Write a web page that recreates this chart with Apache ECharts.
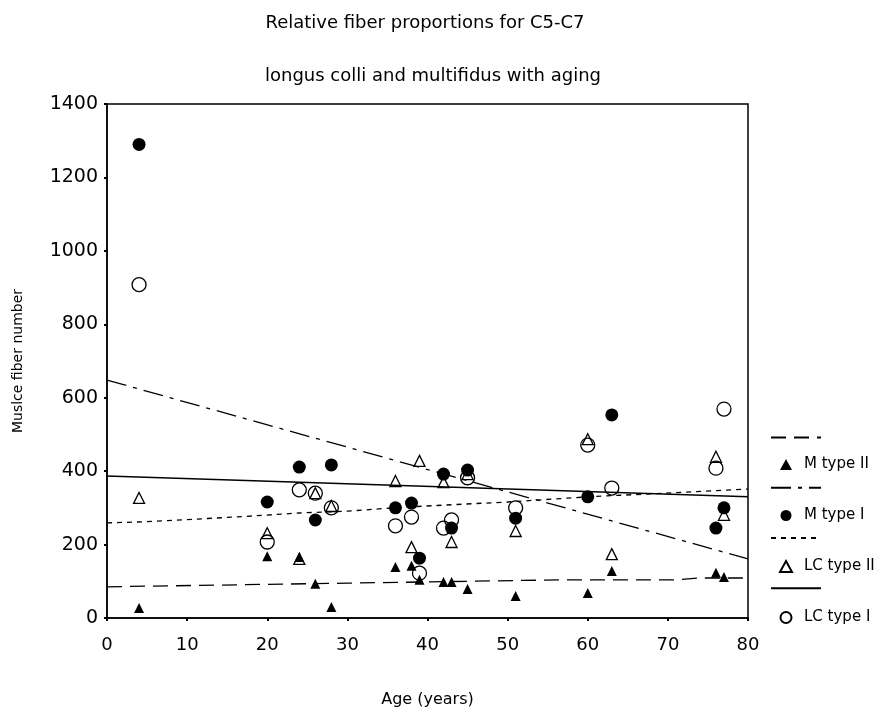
<!DOCTYPE html>
<html>
<head>
<meta charset="utf-8">
<script src="https://cdn.jsdelivr.net/npm/echarts@6/dist/echarts.min.js"></script>
<style>
  html, body { margin: 0; padding: 0; background: #fff; }
  #chart { width: 886px; height: 715px; }
</style>
</head>
<body>
<div id="chart"></div>
<script>
// ages of the 16 subjects (years)
var ages = [4, 20, 24, 26, 28, 36, 38, 39, 42, 43, 45, 51, 60, 63, 76, 77];

// fiber numbers per subject
var mTypeII = [27, 168, 166, 93, 30, 139, 142, 104, 98, 98, 79, 60, 68, 128, 123, 112];
var mTypeI = [1290, 316, 411, 267, 417, 300, 313, 163, 392, 245, 403, 272, 330, 553, 245, 300];
var lcTypeII = [327, 231, 161, 340, 305, 373, 193, 428, 370, 207, 392, 237, 487, 174, 439, 281];
var lcTypeI = [908, 207, 349, 340, 300, 251, 275, 122, 245, 267, 382, 300, 471, 354, 408, 569];

// fitted lines [age, value]
var mTypeIIFit = [[0, 85], [30, 95], [57, 104], [71, 104], [74, 109], [80, 109]];
var mTypeIFit = [[0, 648], [80, 161]];
var lcTypeIIFit = [[0, 259], [4.6, 262], [16, 275], [24, 286], [30, 291], [37, 302], [50, 316], [60, 330], [80, 351]];
var lcTypeIFit = [[0, 387], [80, 330]];

var FONT = "DejaVu Sans";

function pairs(vals) {
  return ages.map(function (a, i) { return [a, vals[i]]; });
}

function fitSeries(name, data, dash, width) {
  return {
    name: name,
    type: "line",
    data: data,
    symbol: "none",
    silent: true,
    z: 1,
    color: "#000",
    lineStyle: { color: "#000", width: width || 1.3, type: dash }
  };
}

var chart = echarts.init(document.getElementById("chart"), null, { renderer: "canvas" });

chart.setOption({
  animation: false,
  backgroundColor: "#fff",
  textStyle: { fontFamily: FONT, color: "#000" },
  title: [
    {
      text: "Relative fiber proportions for C5-C7",
      left: 420, top: 9, textAlign: "center",
      textStyle: { fontFamily: FONT, fontSize: 18, fontWeight: "normal", color: "#000" }
    },
    {
      text: "longus colli and multifidus with aging",
      left: 428, top: 62, textAlign: "center",
      textStyle: { fontFamily: FONT, fontSize: 18, fontWeight: "normal", color: "#000" }
    }
  ],
  grid: {
    left: 107, right: 138, top: 104, bottom: 97,
    show: true, borderColor: "#000", borderWidth: 1.5, backgroundColor: "transparent"
  },
  legend: [
    {
      orient: "vertical",
      left: 765, top: 427,
      itemWidth: 50, itemHeight: 14, itemGap: 39,
      selectedMode: false,
      formatter: function () { return ""; },
      itemStyle: { color: "rgba(0,0,0,0)", borderWidth: 0, opacity: 0 },
      textStyle: { fontSize: 15, lineHeight: 14 },
      data: ["M type II fit", "M type I fit", "LC type II fit", "LC type I fit"]
    },
    {
      orient: "vertical",
      left: 774, top: 452,
      itemWidth: 12, itemHeight: 11, itemGap: 36,
      selectedMode: false,
      textStyle: { fontFamily: FONT, fontSize: 15, lineHeight: 14, color: "#000", padding: [0, 0, 0, 7] },
      data: ["M type II", "M type I", "LC type II", "LC type I"]
    }
  ],
  xAxis: {
    type: "value",
    min: 0, max: 80, interval: 10,
    name: "Age (years)",
    nameLocation: "middle",
    nameGap: 74,
    nameTextStyle: { fontFamily: FONT, fontSize: 16, color: "#000" },
    axisLine: { onZero: false, lineStyle: { color: "#000", width: 1.5 } },
    axisTick: { length: 3, lineStyle: { color: "#000", width: 2 } },
    axisLabel: { margin: 18, fontFamily: FONT, fontSize: 18, color: "#000" },
    splitLine: { show: false }
  },
  yAxis: {
    type: "value",
    min: 0, max: 1400, interval: 200,
    name: "Muslce fiber number",
    nameLocation: "middle",
    nameGap: 82,
    nameTextStyle: { fontFamily: FONT, fontSize: 14, color: "#000" },
    axisLine: { onZero: false, lineStyle: { color: "#000", width: 1.5 } },
    axisTick: { length: 3, lineStyle: { color: "#000", width: 2 } },
    axisLabel: { margin: 9, fontFamily: FONT, fontSize: 19, color: "#000",
      formatter: function (v) { return String(v); } },
    splitLine: { show: false }
  },
  series: [
    fitSeries("M type II fit", mTypeIIFit, [15, 8]),
    fitSeries("M type I fit", mTypeIFit, [20, 7, 4, 7]),
    fitSeries("LC type II fit", lcTypeIIFit, [5, 5]),
    fitSeries("LC type I fit", lcTypeIFit, "solid", 1.5),
    {
      name: "M type II", type: "scatter", data: pairs(mTypeII), z: 3,
      symbol: "triangle", symbolSize: 10,
      itemStyle: { color: "#000", opacity: 1 }
    },
    {
      name: "M type I", type: "scatter", data: pairs(mTypeI), z: 3,
      symbol: "circle", symbolSize: 13,
      itemStyle: { color: "#000", opacity: 1 }
    },
    {
      name: "LC type II", type: "scatter", data: pairs(lcTypeII), z: 4,
      symbol: "triangle", symbolSize: 11,
      itemStyle: { color: "rgba(255,255,255,0)", borderColor: "#000", borderWidth: 1.3, opacity: 1 }
    },
    {
      name: "LC type I", type: "scatter", data: pairs(lcTypeI), z: 4,
      symbol: "circle", symbolSize: 14,
      itemStyle: { color: "rgba(255,255,255,0)", borderColor: "#000", borderWidth: 1.3, opacity: 1 }
    }
  ]
});
</script>
</body>
</html>
